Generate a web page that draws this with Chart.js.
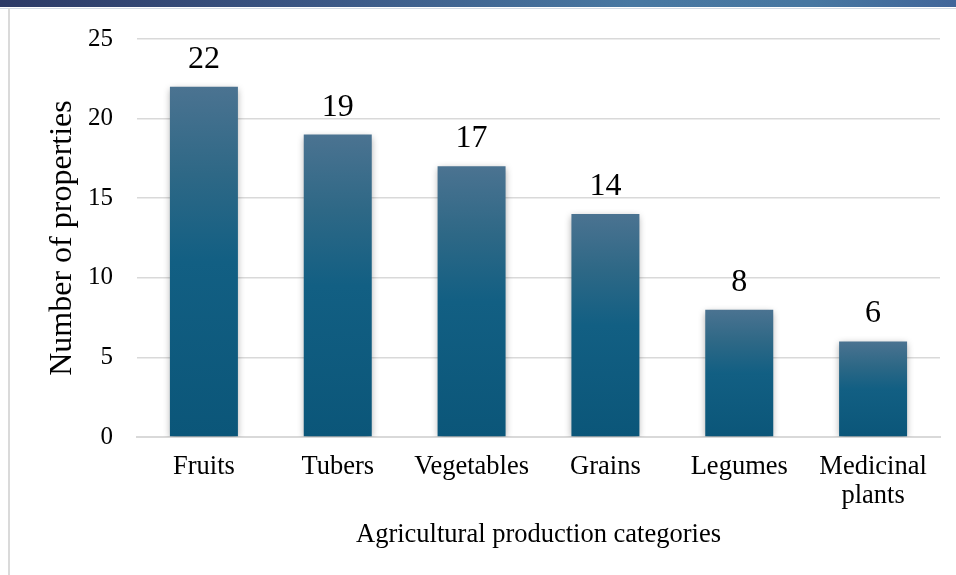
<!DOCTYPE html>
<html>
<head>
<meta charset="utf-8">
<script src="https://cdn.jsdelivr.net/npm/chart.js@4.4.1/dist/chart.umd.min.js"></script>
<style>
  html, body { margin: 0; padding: 0; background: #fff; }
  body { width: 956px; height: 575px; position: relative; overflow: hidden; }
  #topBar { position: absolute; left: 0; top: 0; width: 956px; height: 7px;
    background: linear-gradient(to right, #2c3a66 0%, #3b5785 33%, #4878a2 66%, #4777a1 85%, #41669a 100%); }
  #topLine { position: absolute; left: 0; top: 8px; width: 956px; height: 1px; background: #d3dbe4; }
  #leftLine { position: absolute; left: 8px; top: 8px; width: 2px; height: 567px; background: #dadada; }
  #chart { position: absolute; left: 0; top: 0; }
</style>
</head>
<body>
<div id="topBar"></div>
<div id="topLine"></div>
<div id="leftLine"></div>
<canvas id="chart" width="956" height="575"></canvas>
<script>
// data
var categories = ['Fruits', 'Tubers', 'Vegetables', 'Grains', 'Legumes', ['Medicinal', 'plants']];
var propertyCounts = [22, 19, 17, 14, 8, 6];
var yTicks = [0, 5, 10, 15, 20, 25];

var serif = '"Liberation Serif", "Times New Roman", serif';

// per-bar vertical gradient, lighter at the top
function barGradient(context) {
  var chart = context.chart;
  if (!chart.chartArea || context.raw === undefined) {
    return '#115e82';
  }
  var yScale = chart.scales.y;
  var top = yScale.getPixelForValue(context.raw);
  var base = yScale.getPixelForValue(0);
  var g = chart.ctx.createLinearGradient(0, top, 0, base);
  g.addColorStop(0, '#4b7391');
  g.addColorStop(0.25, '#2e6886');
  g.addColorStop(0.5, '#125f83');
  g.addColorStop(1, '#0b5679');
  return g;
}

var barShadow = {
  id: 'barShadow',
  beforeDatasetDraw: function (chart) {
    var c = chart.ctx;
    c.save();
    c.shadowColor = 'rgba(0,0,0,0.35)';
    c.shadowBlur = 7;
    c.shadowOffsetX = 0;
    c.shadowOffsetY = 2;
  },
  afterDatasetDraw: function (chart) {
    chart.ctx.restore();
  }
};

var valueLabels = {
  id: 'valueLabels',
  afterDatasetsDraw: function (chart) {
    var c = chart.ctx;
    var meta = chart.getDatasetMeta(0);
    c.save();
    c.font = '32px ' + serif;
    c.fillStyle = '#000';
    c.textAlign = 'center';
    c.textBaseline = 'alphabetic';
    meta.data.forEach(function (bar, i) {
      c.fillText(String(propertyCounts[i]), bar.x, bar.y - 19);
    });
    c.restore();
  }
};

var myChart = new Chart(document.getElementById('chart'), {
  type: 'bar',
  data: {
    labels: categories,
    datasets: [{
      label: 'Number of properties',
      data: propertyCounts,
      backgroundColor: barGradient,
      borderWidth: 0,
      categoryPercentage: 1,
      barPercentage: 0.508
    }]
  },
  options: {
    responsive: false,
    animation: false,
    devicePixelRatio: 1,
    layout: { padding: { left: 0, right: 16, top: 36, bottom: 0 } },
    plugins: {
      legend: { display: false },
      tooltip: { enabled: false }
    },
    scales: {
      x: {
        grid: { display: false, drawTicks: false },
        border: { display: true, color: '#d9d9d9', width: 2 },
        ticks: {
          color: '#000',
          padding: 16,
          maxRotation: 0,
          autoSkip: false,
          font: { family: serif, size: 26.5, lineHeight: 1.08 }
        },
        title: {
          display: true,
          text: 'Agricultural production categories',
          color: '#000',
          font: { family: serif, size: 26.5, lineHeight: 1.2 },
          padding: { top: 0, bottom: 24 }
        },
        afterFit: function (scale) { scale.height = 138; }
      },
      y: {
        min: 0,
        max: 25,
        grid: { color: '#d9d9d9', lineWidth: 1.5, drawTicks: false },
        border: { display: false },
        afterBuildTicks: function (scale) {
          scale.ticks = yTicks.map(function (v) { return { value: v }; });
        },
        ticks: {
          color: '#000',
          padding: 24,
          font: { family: serif, size: 25 }
        },
        title: {
          display: true,
          text: 'Number of properties',
          color: '#000',
          font: { family: serif, size: 32, lineHeight: 1.2 },
          padding: { top: 43, bottom: 0 }
        },
        afterFit: function (scale) { scale.width = 137; }
      }
    }
  },
  plugins: [barShadow, valueLabels]
});
</script>
</body>
</html>
